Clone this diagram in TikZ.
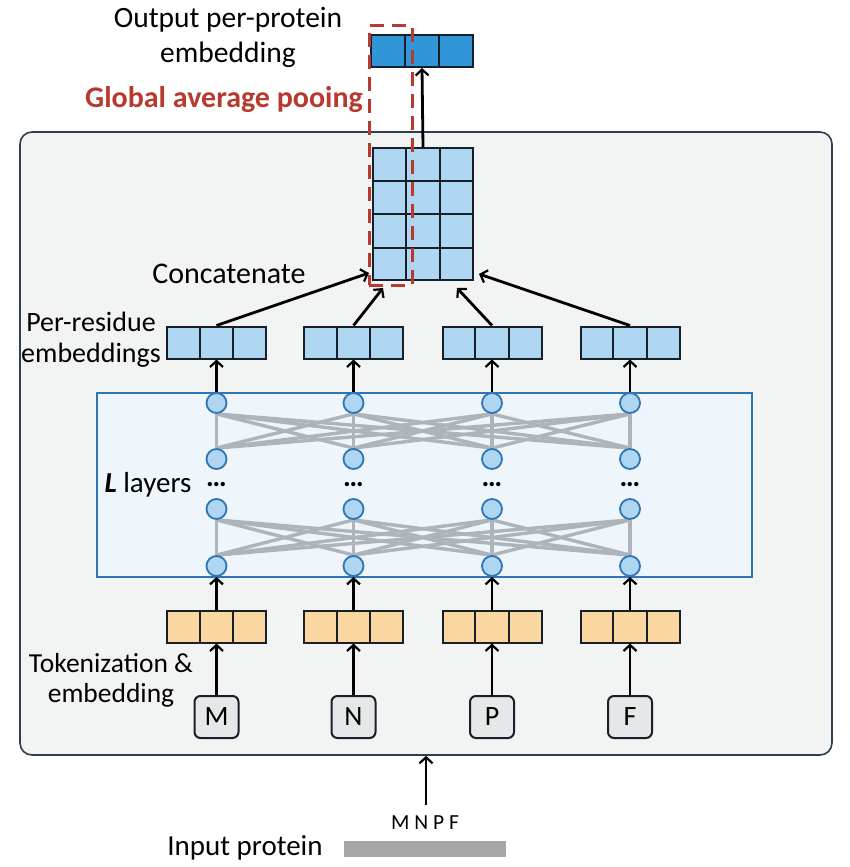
\documentclass[tikz,border=0pt]{standalone}
\usepackage{fontspec}
\setmainfont{Carlito}
\usetikzlibrary{arrows.meta,calc}
\pgfdeclarelayer{bgA}\pgfdeclarelayer{bgB}
\pgfsetlayers{bgA,bgB,main}
\definecolor{panelgray}{HTML}{F2F4F4}
\definecolor{paneledge}{HTML}{2C3E50}
\definecolor{layerfill}{HTML}{EEF6FC}
\definecolor{layeredge}{HTML}{2E75B6}
\definecolor{cellblue}{HTML}{AED6F1}
\definecolor{outblue}{HTML}{3196D8}
\definecolor{cellorange}{HTML}{FAD7A0}
\definecolor{tokfill}{HTML}{E5E8E8}
\definecolor{edgedark}{HTML}{17202A}
\definecolor{linkgray}{HTML}{AEB4BA}
\definecolor{poolred}{HTML}{B83A2E}
\definecolor{bargray}{HTML}{A6A6A6}
\tikzset{
  vec/.style={rectangle, draw=edgedark, line width=2pt, minimum width=99pt, minimum height=32pt, inner sep=0pt},
  cellline/.style={draw=edgedark, line width=2pt},
  arr/.style={-{Straight Barb[length=6pt,width=13pt,line width=2.2pt]}, line width=2.8pt, black},
  neuron/.style={circle, draw=layeredge, fill=cellblue, line width=1.8pt, minimum size=20pt, inner sep=0pt},
  link/.style={draw=linkgray, line width=3.4pt},
  lab/.style={font=\fontsize{29}{33}\selectfont, inner sep=0pt, align=center},
  tok/.style={rectangle, rounded corners=6pt, draw=edgedark, fill=tokfill, line width=2pt, minimum width=44pt, minimum height=42pt, inner sep=0pt, font=\fontsize{28}{30}\selectfont},
}
\newcommand{\vdivs}[1]{\foreach \f in {0.3333,0.6667} \draw[cellline] ($(#1.north west)!\f!(#1.north east)$) -- ($(#1.south west)!\f!(#1.south east)$);}
\begin{document}
\begin{tikzpicture}[x=1pt,y=-1pt]
\useasboundingbox (0,0) rectangle (850,867);
% panel and layer box
\begin{pgfonlayer}{bgA}
\node[rectangle, rounded corners=12pt, draw=paneledge, fill=panelgray, line width=1.6pt, minimum width=812pt, minimum height=623pt, inner sep=0pt] (panel) at (426,443.5) {};
\node[rectangle, draw=layeredge, fill=layerfill, line width=1.6pt, minimum width=655pt, minimum height=184pt, inner sep=0pt] (layers) at (424.5,485) {};
\end{pgfonlayer}
% columns
\foreach \x/\t [count=\i] in {216.5/M,353.5/N,492/P,630/F}{
  \node[tok] (tok\i) at (\x,717) {\t};
  \node[vec, fill=cellorange] (emb\i) at (\x,626.5) {};
  \vdivs{emb\i}
  \node[neuron] (nA\i) at (\x,566) {};
  \node[neuron] (nB\i) at (\x,509) {};
  \node[neuron] (nC\i) at (\x,459) {};
  \node[neuron] (nD\i) at (\x,403) {};
  \node[font=\fontsize{29}{33}\selectfont\bfseries, inner sep=0pt] (dots\i) at (\x,485) {…};
  \node[vec, fill=cellblue] (res\i) at (\x,342.5) {};
  \vdivs{res\i}
  \draw[arr] (tok\i.north) -- (emb\i.south);
  \draw[arr] (emb\i.north) -- (nA\i.south);
  \draw[arr] (nD\i.north) -- (res\i.south);
}
\begin{pgfonlayer}{bgB}
\foreach \i in {1,...,4}{
  \foreach \j in {1,...,4}{
    \draw[link] (nB\i.south) -- (nA\j.north);
    \draw[link] (nD\i.south) -- (nC\j.north);
  }
}
\end{pgfonlayer}
% concatenated matrix
\node[rectangle, draw=edgedark, fill=cellblue, line width=2pt, minimum width=100pt, minimum height=132pt, inner sep=0pt] (mat) at (423,214) {};
\foreach \f in {0.3333,0.6667} \draw[cellline] ($(mat.north west)!\f!(mat.north east)$) -- ($(mat.south west)!\f!(mat.south east)$);
\foreach \f in {0.25,0.5,0.75} \draw[cellline] ($(mat.north west)!\f!(mat.south west)$) -- ($(mat.north east)!\f!(mat.south east)$);
% output vector
\node[vec, fill=outblue, minimum width=102pt] (out) at (422,51) {};
\vdivs{out}
\draw[arr] (mat.north) -- (out.south);
% concat arrows
\draw[arr] (res1.north) -- ([xshift=-3pt,yshift=8pt]mat.south west);
\draw[arr] (res2.north) -- ([xshift=-40pt,yshift=-7pt]mat.south);
\draw[arr] (res3.north) -- ([xshift=34pt,yshift=-7pt]mat.south);
\draw[arr] (res4.north) -- ([xshift=5pt,yshift=7pt]mat.south east);
% pooling box
\node[rectangle, draw=poolred, dash pattern=on 14pt off 8pt, line width=3pt, minimum width=43pt, minimum height=259pt, inner sep=0pt] (pool) at (390.5,155.5) {};
% labels
\node[lab, font=\fontsize{29.5}{35}\selectfont] (outlab) at (228,37) {Output per-protein\\embedding};
\node[lab, font=\fontsize{30}{33}\selectfont\bfseries, text=poolred] (poollab) at (224,100) {Global average pooing};
\node[lab, font=\fontsize{30}{33}\selectfont] (catlab) at (229,274) {Concatenate};
\node[lab, font=\fontsize{28}{31}\selectfont] (reslab) at (91,340) {Per-residue\\embeddings};
\node[lab] (laylab) at (148,485) {\textbf{\textit{L}} layers};
\node[lab, font=\fontsize{27.5}{30}\selectfont] (toklab) at (111,680) {Tokenization \&\\embedding};
% input
\node[font=\fontsize{21.5}{23}\selectfont, inner sep=0pt] (seq) at (425,823) {M N P F};
\node[rectangle, fill=bargray, minimum width=162pt, minimum height=16pt, inner sep=0pt] (bar) at (425,849) {};
\node[lab] (inlab) at (245,848) {Input protein};
\coordinate (src) at (426,805);
\draw[arr] (src) -- (panel.south);
\end{tikzpicture}
\end{document}
